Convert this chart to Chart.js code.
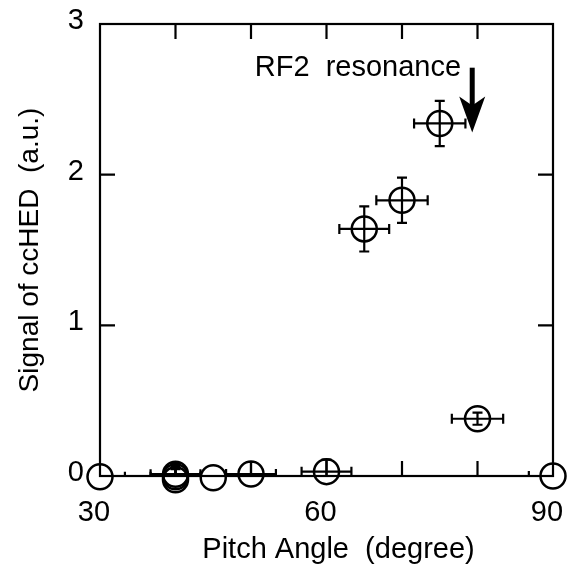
<!DOCTYPE html>
<html><head><meta charset="utf-8">
<script src="https://cdn.jsdelivr.net/npm/chart.js@4.4.0/dist/chart.umd.min.js"></script>
<style>html,body{margin:0;padding:0;background:#fff}#wrap{width:573px;height:565px}</style>
</head><body><div id="wrap"><canvas id="c" width="573" height="565"></canvas></div>
<script>
// ---- data ----
const pitchAngle = [30, 40, 40, 40, 45, 50, 60, 65, 70, 75, 80, 90];
const signal     = [-0.005, 0.012, -0.005, -0.025, -0.012, 0.013, 0.029, 1.64, 1.83, 2.34, 0.38, 0];
const pitchErr   = [3.3, 3.3, 3.3, 3.3, 0, 3.3, 3.3, 3.3, 3.4, 3.4, 3.4, 3.2];
const signalErr  = [0, 0.07, 0.07, 0.07, 0, 0.08, 0.08, 0.15, 0.15, 0.15, 0.04, 0];
const xTickValues = [30, 60, 90];
const xTickMarks = [40, 50, 60, 70, 80];
const yTickValues = [0, 1, 2, 3];
const yTickMarks = [1, 2];
const xAxisTitle = 'Pitch Angle  (degree)';
const yAxisTitle = 'Signal of ccHED  (a.u.)';
const noteText = 'RF2  resonance';
const notePos = [50.5, 2.655];
const arrowX = [79.3];
const arrowY = [2.71, 2.28];

const FONT = '"Liberation Sans", Arial, sans-serif';

const decor = {
  id: 'decor',
  beforeDatasetsDraw(chart) {
    const {ctx, chartArea: a, scales: {x, y}} = chart;
    ctx.save();
    ctx.beginPath();
    ctx.rect(a.left, a.top, a.right - a.left, a.bottom - a.top);
    ctx.clip();
    ctx.strokeStyle = '#000';
    ctx.lineWidth = 2.2;
    const cap = 5;
    for (let i = 0; i < pitchAngle.length; i++) {
      const px = x.getPixelForValue(pitchAngle[i]);
      const py = y.getPixelForValue(signal[i]);
      if (pitchErr[i] > 0) {
        const l = x.getPixelForValue(pitchAngle[i] - pitchErr[i]);
        const r = x.getPixelForValue(pitchAngle[i] + pitchErr[i]);
        ctx.beginPath();
        ctx.moveTo(l, py); ctx.lineTo(r, py);
        ctx.moveTo(l, py - cap); ctx.lineTo(l, py + cap);
        ctx.moveTo(r, py - cap); ctx.lineTo(r, py + cap);
        ctx.stroke();
      }
      if (signalErr[i] > 0) {
        const t = y.getPixelForValue(signal[i] + signalErr[i]);
        const b = y.getPixelForValue(signal[i] - signalErr[i]);
        ctx.beginPath();
        ctx.moveTo(px, t); ctx.lineTo(px, b);
        ctx.moveTo(px - cap, t); ctx.lineTo(px + cap, t);
        ctx.moveTo(px - cap, b); ctx.lineTo(px + cap, b);
        ctx.stroke();
      }
    }
    ctx.restore();
  },
  afterDraw(chart) {
    const {ctx, chartArea: a, scales: {x, y}} = chart;
    ctx.save();
    ctx.strokeStyle = '#000';
    ctx.fillStyle = '#000';
    ctx.lineWidth = 2.2;
    ctx.strokeRect(a.left, a.top, a.right - a.left, a.bottom - a.top);
    const tl = 15;
    ctx.beginPath();
    xTickMarks.forEach(v => {
      const p = x.getPixelForValue(v);
      ctx.moveTo(p, a.bottom); ctx.lineTo(p, a.bottom - tl);
      ctx.moveTo(p, a.top); ctx.lineTo(p, a.top + tl);
    });
    yTickMarks.forEach(v => {
      const p = y.getPixelForValue(v);
      ctx.moveTo(a.left, p); ctx.lineTo(a.left + tl, p);
      ctx.moveTo(a.right, p); ctx.lineTo(a.right - tl, p);
    });
    ctx.stroke();

    // arrow
    const ax = x.getPixelForValue(arrowX[0]);
    const at = y.getPixelForValue(arrowY[0]);
    const ab = y.getPixelForValue(arrowY[1]);
    ctx.lineWidth = 5;
    ctx.beginPath();
    ctx.moveTo(ax, at); ctx.lineTo(ax, ab - 25);
    ctx.stroke();
    ctx.beginPath();
    ctx.moveTo(ax, ab);
    ctx.lineTo(ax - 13, ab - 36);
    ctx.lineTo(ax, ab - 27);
    ctx.lineTo(ax + 13, ab - 36);
    ctx.closePath();
    ctx.fill();

    // note text
    ctx.font = '29px ' + FONT;
    ctx.textAlign = 'left';
    ctx.textBaseline = 'alphabetic';
    ctx.fillText(noteText, x.getPixelForValue(notePos[0]), y.getPixelForValue(notePos[1]));

    // axis titles
    ctx.textAlign = 'center';
    ctx.fillText(xAxisTitle, (a.left + a.right) / 2 + 12, 557.5);
    ctx.save();
    ctx.translate(38, (a.top + a.bottom) / 2);
    ctx.rotate(-Math.PI / 2);
    ctx.font = '28px ' + FONT;
    ctx.fillText(yAxisTitle, 0, 0);
    ctx.restore();
    ctx.restore();
  }
};

new Chart(document.getElementById('c'), {
  type: 'scatter',
  data: {
    datasets: [{
      data: pitchAngle.map((v, i) => ({x: v, y: signal[i]})),
      pointRadius: 12.5,
      pointHoverRadius: 12.5,
      borderWidth: 2.5,
      borderColor: '#000',
      backgroundColor: 'rgba(0,0,0,0)',
      clip: false
    }]
  },
  options: {
    responsive: false,
    devicePixelRatio: 1,
    animation: false,
    events: [],
    layout: {padding: {left: 0, top: 24, right: 20, bottom: 0}},
    plugins: {legend: {display: false}, tooltip: {enabled: false}},
    scales: {
      x: {
        type: 'linear', min: 30, max: 90,
        afterFit(s) { s.height = 89; s.paddingLeft = 0; s.paddingRight = 0; },
        afterBuildTicks(s) { s.ticks = xTickValues.map(v => ({value: v})); },
        grid: {display: false, drawTicks: false},
        border: {display: false},
        ticks: {color: '#000', font: {family: FONT, size: 29}, padding: 20, labelOffset: -6, maxRotation: 0}
      },
      y: {
        type: 'linear', min: 0, max: 3,
        afterFit(s) { s.width = 100; s.paddingTop = 0; s.paddingBottom = 0; },
        afterBuildTicks(s) { s.ticks = yTickValues.map(v => ({value: v})); },
        grid: {display: false, drawTicks: false},
        border: {display: false},
        ticks: {color: '#000', font: {family: FONT, size: 29}, padding: 16, labelOffset: -3}
      }
    }
  },
  plugins: [decor]
});
</script></body></html>
